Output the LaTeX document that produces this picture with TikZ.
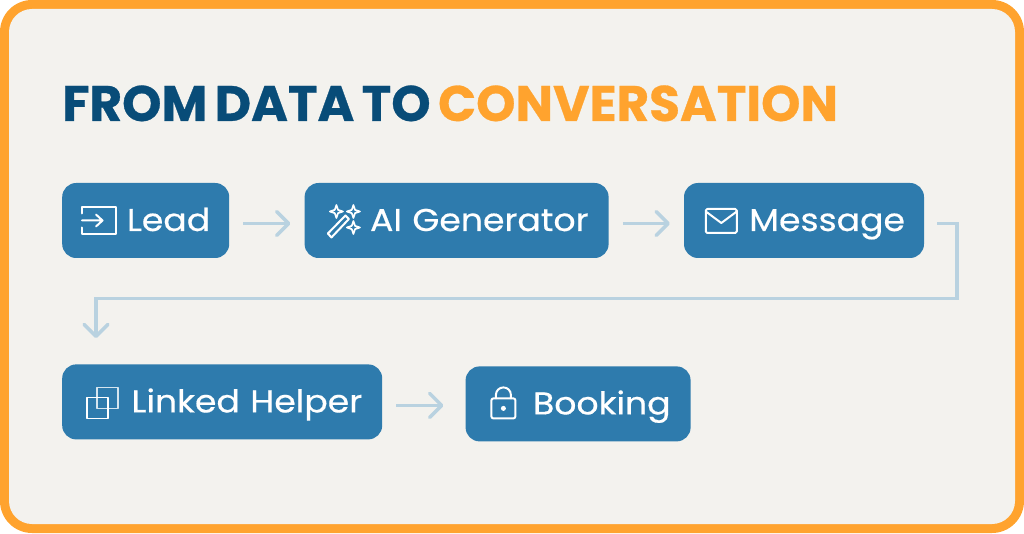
\documentclass[tikz,border=0pt]{standalone}
\usepackage{fontspec}
\usetikzlibrary{positioning,arrows.meta}
\newfontfamily\stepfont[FakeStretch=1.1,FakeBold=0.5]{Poppins}
\newfontfamily\headfont[WordSpace=0.7,BoldFeatures={FakeBold=0.6}]{Poppins}
\definecolor{frameorange}{HTML}{FFA32E}
\definecolor{paper}{HTML}{F3F2EE}
\definecolor{navy}{HTML}{084C78}
\definecolor{stepblue}{HTML}{2E7BAD}
\definecolor{flowblue}{HTML}{B9D2E0}
\tikzset{
    stepbox/.style={rounded corners=14pt, fill=stepblue, text=white, inner xsep=20pt, inner ysep=0pt,
        minimum height=75pt, text width=#1pt, align=right, text height=25pt, text depth=4pt,
        font=\stepfont\fontsize{31.5}{32}\selectfont},
    flowarrow/.style={draw=flowblue, line width=3.5pt, shorten <=14pt, shorten >=14pt,
        -{Straight Barb[length=12pt,width=24pt,line width=3.5pt,round]}},
    iconline/.style={draw=white, line width=2pt, line join=round, line cap=round},
}
\begin{document}
\begin{tikzpicture}[x=1pt,y=1pt]
    \useasboundingbox (0,0) rectangle (1024,533);
    \fill[frameorange, rounded corners=32pt] (0,0) rectangle (1024,533);
    \fill[paper, rounded corners=23pt] (9,9) rectangle (1015,524);

    \node[stepbox=129, inner xsep=19pt, anchor=west] (lead) at (62,312.5) {Lead};
    \node[stepbox=264, right=75pt of lead] (generator) {AI Generator};
    \node[stepbox=202, inner xsep=19pt, right=75pt of generator] (message) {Message};
    \node[stepbox=280, below=106pt of lead.south west, anchor=north west] (helper) {Linked Helper};
    \node[stepbox=185, right=83pt of helper, yshift=-2pt] (booking) {Booking};

    \node[anchor=base west, inner sep=0pt, font=\headfont\bfseries\fontsize{50}{50}\selectfont, text=navy]
        (heading) at (62,412) {FROM DATA TO \textcolor{frameorange}{CONVERSATION}};

    % flow between the steps
    \draw[flowarrow] ([yshift=-3pt]lead.east) -- ([yshift=-3pt]generator.west);
    \draw[flowarrow] ([yshift=-3pt]generator.east) -- ([yshift=-3pt]message.west);
    \draw[flowarrow, shorten >=26pt, shorten <=13pt] ([yshift=-3pt]message.east) -- ++(33,0) -- ++(0,-75) -| ([xshift=34pt]helper.north west);
    \draw[flowarrow, shorten >=22pt] ([yshift=-3.5pt]helper.east) -- ([yshift=-1.5pt]booking.west);

    % icons
    \begin{scope}[shift={(lead.west)}]
        \draw[iconline] (20,7) -- (20,13.5) -- (54,13.5) -- (54,-13.5) -- (20,-13.5) -- (20,-7);
        \draw[iconline] (20,0) -- (40,0) (34,6) -- (40.5,0) -- (34,-6);
    \end{scope}
    \begin{scope}[shift={(generator.west)}]
        \draw[iconline] (23.5,-13) -- (41,5) -- (44.5,1.5) -- (27,-17) -- cycle;
        \foreach \sx/\sy/\sr in {32/9/6.5, 49/9/6.5, 49/-7/6.5}
            \draw[iconline, line width=1.7pt] (\sx-\sr,\sy) -- (\sx-.25*\sr,\sy+.25*\sr) -- (\sx,\sy+\sr) -- (\sx+.25*\sr,\sy+.25*\sr) -- (\sx+\sr,\sy) -- (\sx+.25*\sr,\sy-.25*\sr) -- (\sx,\sy-\sr) -- (\sx-.25*\sr,\sy-.25*\sr) -- cycle;
    \end{scope}
    \begin{scope}[shift={(message.west)}]
        \draw[iconline, rounded corners=1.5pt] (22,-12.5) rectangle (53,11.5);
        \draw[iconline] (22,9) -- (37.5,-2.5) -- (53,9);
    \end{scope}
    \begin{scope}[shift={(helper.west)}]
        \draw[iconline, line cap=butt, line width=1.5pt, draw=white!80!stepblue] (35,-6.5) rectangle (56,14.5);
        \draw[iconline, line cap=butt, line width=1.5pt] (25,-16.5) rectangle (46,4.5);
    \end{scope}
    \begin{scope}[shift={(booking.west)}]
        \draw[iconline, rounded corners=2pt] (26,-14.5) rectangle (50,5.5);
        \draw[iconline] (30.5,5.5) -- (30.5,9) arc[start angle=180, end angle=0, radius=7.5] -- (45.5,5.5);
        \fill[white] (38,-4.5) circle[radius=2.5];
    \end{scope}
\end{tikzpicture}
\end{document}
